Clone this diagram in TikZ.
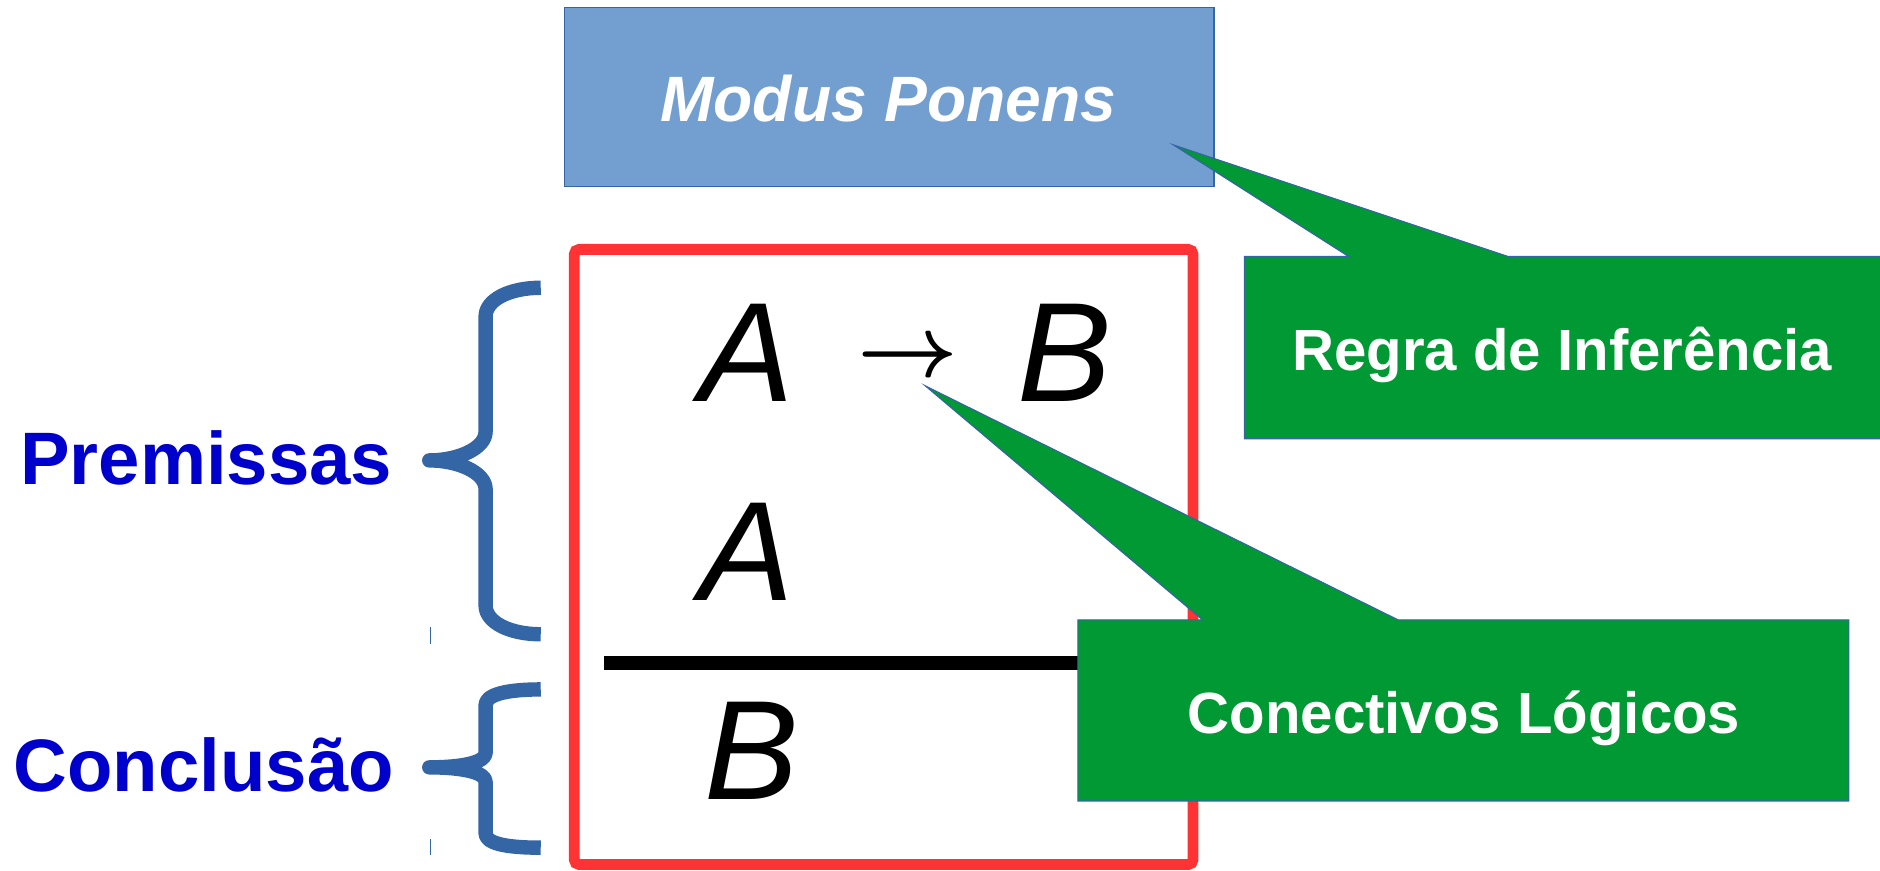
\documentclass[tikz,border=0pt]{standalone}
\usepackage{fontspec}
\setmainfont{Liberation Sans}
\usepackage{graphicx}
\usepackage{bm}
\definecolor{titlefill}{RGB}{114,159,207}
\definecolor{titleedge}{RGB}{52,101,164}
\definecolor{framered}{RGB}{255,51,51}
\definecolor{bracecol}{RGB}{52,101,164}
\definecolor{labelblue}{RGB}{0,0,204}
\definecolor{callgreen}{RGB}{0,153,51}
\definecolor{calledge}{RGB}{52,101,164}
\begin{document}
\begin{tikzpicture}[x=1pt,y=-1pt,
  titlebox/.style={fill=titlefill, draw=titleedge, line width=1, inner sep=0,
    anchor=north west, minimum width=542, minimum height=149},
  titletext/.style={font=\fontsize{53.5}{53.5}\selectfont\bfseries\itshape, text=white, inner sep=0, anchor=base},
  frame/.style={draw=framered, line width=9, rounded corners=4},
  mathletter/.style={font=\fontsize{118}{118}\selectfont\itshape, inner sep=0, anchor=base},
  sidelabel/.style={font=\fontsize{62}{62}\selectfont\bfseries, text=labelblue, inner sep=0, anchor=base},
  callout/.style={fill=callgreen, draw=calledge, line width=1},
  callouttext/.style={font=\fontsize{48.5}{48.5}\selectfont\bfseries, text=white, inner sep=0, anchor=base},
  bracepath/.style={draw=bracecol, line width=12, line join=round, line cap=butt},
  tick/.style={draw=bracecol, line width=1.5}
]
\useasboundingbox (0,0) rectangle (1568,726);

% title box
\node[titlebox] (title) at (470,6) {};
\node[titletext] (titletxt) at (741,101) {Modus Ponens};

% red frame
\draw[frame] (479,208) rectangle (995,721);

% formulas
\node[mathletter] (a1) at (623,335) {A};
\node[inner sep=0] (arrow) at (757,300) {\scalebox{7.3}{$\bm{\rightarrow}$}};
\node[mathletter] (b1) at (888,335) {B};
\node[mathletter] (a2) at (623,501) {A};
\coordinate (barL) at (504,553);
\coordinate (barR) at (975,553);
\draw[line width=12] (barL) -- (barR);
\node[mathletter] (b2) at (627,667) {B};

% braces
\draw[bracepath] (451,240) .. controls (425,240) and (405,250) .. (405,264)
  -- (405,360) .. controls (405,374) and (382,384) .. (358,384)
  .. controls (382,384) and (405,394) .. (405,408)
  -- (405,505) .. controls (405,519) and (425,529) .. (451,529);
\draw[bracepath] (451,575) .. controls (420,575) and (405,580) .. (405,588)
  -- (405,628) .. controls (405,636) and (385,640) .. (358,640)
  .. controls (385,640) and (405,644) .. (405,652)
  -- (405,695) .. controls (405,703) and (420,707) .. (451,707);
\draw[tick] (359,523) -- (359,537);
\draw[tick] (359,700) -- (359,713);

% side labels
\node[sidelabel] (prem) at (172,404) {Premissas};
\node[sidelabel] (concl) at (170,660) {Conclusão};

% callouts
\coordinate (tip1) at (979,121);
\coordinate (tip2) at (772,322);
\path[callout] (1038,214) -- (1125,214) -- (tip1) -- (1258,214) -- (1572,214)
  -- (1572,366) -- (1038,366) -- cycle;
\node[callouttext] (regra) at (1303,309) {Regra de Inferência};
\path[callout] (899,517) -- (1003,517) -- (tip2) -- (1166,517) -- (1542,517)
  -- (1542,668) -- (899,668) -- cycle;
\node[callouttext] (conect) at (1221,612) {Conectivos Lógicos};
\end{tikzpicture}
\end{document}
